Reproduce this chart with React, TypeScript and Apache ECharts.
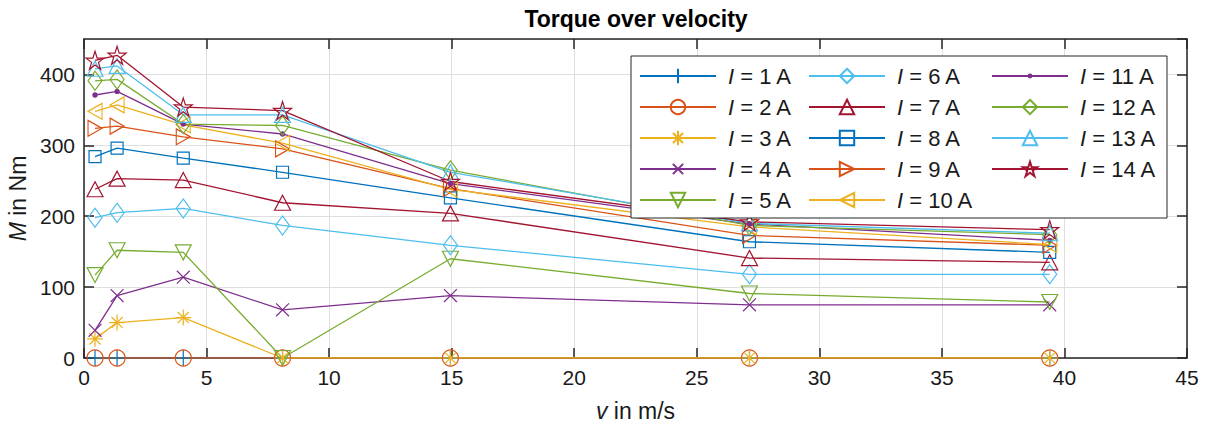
import React, { useEffect, useRef } from 'react';
import * as echarts from 'echarts';

// ---- data ----
const VELOCITY = [0.45, 1.35, 4.05, 8.1, 14.95, 27.15, 39.4];

const I1 = [0, 0, 0, 0, 0, 0, 0];
const I2 = [0, 0, 0, 0, 0, 0, 0];
const I3 = [27, 50, 57, 0, 0, 0, 0];
const I4 = [39, 88, 114, 68, 88, 75, 75];
const I5 = [117, 152, 149, 0, 140, 91, 79];
const I6 = [198, 205, 211, 187, 159, 118, 118];
const I7 = [238, 253, 251, 219, 204, 141, 135];
const I8 = [284, 296, 282, 262, 226, 164, 149];
const I9 = [324, 327, 312, 295, 239, 173, 159];
const I10 = [348, 357, 329, 303, 238, 185, 160];
const I11 = [371, 376, 330, 316, 246, 189, 166];
const I12 = [391, 393, 330, 328, 265, 187, 174];
const I13 = [408, 412, 343, 343, 262, 190, 176];
const I14 = [420, 427, 354, 349, 249, 192, 181];

const SERIES_VALUES = [I1, I2, I3, I4, I5, I6, I7, I8, I9, I10, I11, I12, I13, I14];
const SERIES_NAMES = [
  'I = 1 A', 'I = 2 A', 'I = 3 A', 'I = 4 A', 'I = 5 A',
  'I = 6 A', 'I = 7 A', 'I = 8 A', 'I = 9 A', 'I = 10 A',
  'I = 11 A', 'I = 12 A', 'I = 13 A', 'I = 14 A',
];

const C_BLUE = '#0072BD';
const C_ORANGE = '#D95319';
const C_YELLOW = '#EDB120';
const C_PURPLE = '#7E2F8E';
const C_GREEN = '#77AC30';
const C_CYAN = '#4DBEEE';
const C_RED = '#A2142F';
const COLORS = [
  C_BLUE, C_ORANGE, C_YELLOW, C_PURPLE, C_GREEN, C_CYAN, C_RED,
  C_BLUE, C_ORANGE, C_YELLOW, C_PURPLE, C_GREEN, C_CYAN, C_RED,
];

const STAR = 'path://M0,-1L0.2245,-0.309L0.951,-0.309L0.363,0.118L0.588,0.809L0,0.382L-0.588,0.809L-0.363,0.118L-0.951,-0.309L-0.2245,-0.309Z';
const PLUS = 'path://M0,-1L0,1M-1,0L1,0';
const ASTER = 'path://M0,-1L0,1M-1,0L1,0M-0.7,-0.7L0.7,0.7M-0.7,0.7L0.7,-0.7';
const CROSS = 'path://M-1.4,-1.4L-1.4,-1.4M1.4,1.4L1.4,1.4M-1,-1L1,1M-1,1L1,-1';
const TRI_DOWN = 'path://M-1,-1L1,-1L0,1Z';
const TRI_RIGHT = 'path://M-1,-1L1,0L-1,1Z';
const TRI_LEFT = 'path://M1,-1L-1,0L1,1Z';
const DOT = 'path://M-3,-3L-3,-3M3,3L3,3M1,0A1,1,0,1,1,-1,0A1,1,0,1,1,1,0Z';

const MARKERS = [
  PLUS, 'circle', ASTER, CROSS, TRI_DOWN, 'diamond', 'triangle',
  'rect', TRI_RIGHT, TRI_LEFT, DOT, 'diamond', 'triangle', STAR,
];
const MARKER_SIZES: any[] = [
  16, 16, 16, 18, [16, 15], [14, 19], [16, 15],
  12, [14, 16], [14, 16], 16, [14, 19], [16, 15], 18,
];

const FONT = '"Liberation Sans", Arial, Helvetica, sans-serif';
const TEXT_COLOR = '#1a1a1a';
const FRAME = '#262626';

export default function App() {
  const ref = useRef<HTMLDivElement>(null);

  useEffect(() => {
    if (!ref.current) return;
    const chart = echarts.init(ref.current, undefined, { renderer: 'svg' });

    const series = SERIES_VALUES.map((vals, i) => ({
      name: SERIES_NAMES[i],
      type: 'line',
      data: vals.map((v, j) => [VELOCITY[j], v]),
      symbol: MARKERS[i],
      symbolSize: MARKER_SIZES[i],
      showSymbol: true,
      showAllSymbol: true,
      xAxisIndex: 0,
      yAxisIndex: 0,
      lineStyle: { color: COLORS[i], width: 1.3 },
      itemStyle: i === 10
        ? { color: COLORS[i], borderColor: COLORS[i], borderWidth: 0 }
        : { color: 'rgba(0,0,0,0)', borderColor: COLORS[i], borderWidth: 1.2 },
      emphasis: { disabled: true },
      z: 2,
    }));

    const legendCommon = {
      orient: 'vertical',
      itemWidth: 76,
      itemHeight: 18,
      itemGap: 9,
      padding: 0,
      selectedMode: false,
      formatter: (name: string) => name.replace(/^I/, '{i|I}'),
      textStyle: {
        fontFamily: FONT,
        fontSize: 22,
        color: TEXT_COLOR,
        padding: [0, 0, 0, 7],
        rich: {
          i: { fontStyle: 'italic', fontFamily: FONT, fontSize: 22, color: TEXT_COLOR },
        },
      },
      z: 5,
    };

    const option: any = {
      animation: false,
      backgroundColor: '#ffffff',
      title: {
        text: 'Torque over velocity',
        left: 636,
        top: 7,
        padding: 0,
        textAlign: 'center',
        textStyle: { fontFamily: FONT, fontSize: 23, fontWeight: 'bold', color: '#000' },
      },
      grid: { left: 84, right: 18, top: 39, bottom: 69, containLabel: false, outerBoundsMode: 'none' },
      legend: [
        { ...legendCommon, left: 639, top: 65, data: SERIES_NAMES.slice(0, 5) },
        { ...legendCommon, left: 808, top: 65, data: SERIES_NAMES.slice(5, 10) },
        { ...legendCommon, left: 991, top: 65, data: SERIES_NAMES.slice(10, 14) },
      ],
      graphic: [
        {
          type: 'rect',
          shape: { x: 631, y: 56, width: 536, height: 162 },
          style: { fill: '#ffffff', stroke: FRAME, lineWidth: 1 },
          z: 3,
        },
      ],
      xAxis: [
        {
          type: 'value', min: 0, max: 45, interval: 5, position: 'bottom',
          name: '{i|v} in m/s', nameLocation: 'middle', nameGap: 41,
          nameTextStyle: {
            fontFamily: FONT, fontSize: 23, color: TEXT_COLOR,
            rich: { i: { fontStyle: 'italic', fontFamily: FONT, fontSize: 23, color: TEXT_COLOR } },
          },
          axisLine: { show: true, lineStyle: { color: FRAME, width: 1.5 } },
          axisTick: { show: true, inside: true, length: 10, lineStyle: { color: FRAME, width: 1.5 } },
          axisLabel: { fontFamily: FONT, fontSize: 21, color: TEXT_COLOR, margin: 9 },
          splitLine: { show: true, lineStyle: { color: '#dfdfdf', width: 1 } },
        },
        {
          type: 'value', min: 0, max: 45, interval: 5, position: 'top',
          axisLine: { show: true, onZero: false, lineStyle: { color: FRAME, width: 1.5 } },
          axisTick: { show: true, inside: true, length: 10, lineStyle: { color: FRAME, width: 1.5 } },
          axisLabel: { show: false },
          splitLine: { show: false },
        },
      ],
      yAxis: [
        {
          type: 'value', min: 0, max: 450, interval: 100, position: 'left',
          name: '{i|M} in Nm', nameLocation: 'middle', nameGap: 54, nameRotate: 90,
          nameTextStyle: {
            fontFamily: FONT, fontSize: 23, color: TEXT_COLOR,
            rich: { i: { fontStyle: 'italic', fontFamily: FONT, fontSize: 23, color: TEXT_COLOR } },
          },
          axisLine: { show: true, onZero: false, lineStyle: { color: FRAME, width: 1.5 } },
          axisTick: { show: true, inside: true, length: 10, lineStyle: { color: FRAME, width: 1.5 } },
          axisLabel: { fontFamily: FONT, fontSize: 21, color: TEXT_COLOR, margin: 9, showMaxLabel: false },
          splitLine: { show: true, lineStyle: { color: '#dfdfdf', width: 1 } },
        },
        {
          type: 'value', min: 0, max: 450, interval: 100, position: 'right',
          axisLine: { show: true, onZero: false, lineStyle: { color: FRAME, width: 1.5 } },
          axisTick: { show: true, inside: true, length: 10, lineStyle: { color: FRAME, width: 1.5 } },
          axisLabel: { show: false },
          splitLine: { show: false },
        },
      ],
      series,
    };

    chart.setOption(option);
    return () => chart.dispose();
  }, []);

  return (
    <div
      ref={ref}
      style={{ position: 'fixed', left: 0, top: 0, width: 1205, height: 427, background: '#fff' }}
    />
  );
}
